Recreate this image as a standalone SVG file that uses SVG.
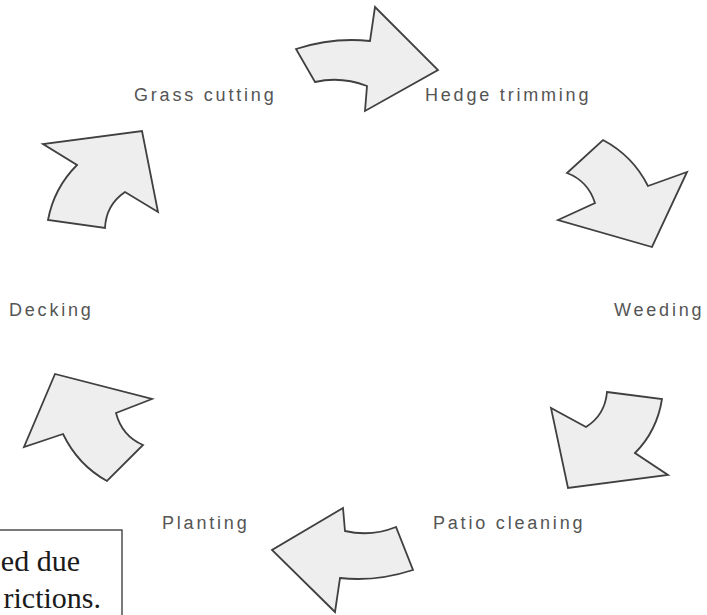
<svg xmlns="http://www.w3.org/2000/svg" width="707" height="615" viewBox="0 0 707 615">
  <style>
    .lbl { font-family: "Liberation Sans", Arial, sans-serif; font-size: 18px; letter-spacing: 2.8px; fill: #555555; }
    .arr { fill: #eeeeee; stroke: #404040; stroke-width: 1.8; stroke-linejoin: miter; }
    .note { font-family: "Liberation Serif", "Times New Roman", serif; font-size: 30px; fill: #1a1a1a; }
  </style>
  <rect x="0" y="0" width="707" height="615" fill="#ffffff"/>
  <g id="connectors">
    <path class="arr" d="M296,49 Q333,37 370,41 L375,7 L438,70 L365,111 L367,86 Q341,76 315,82 Z"/>
    <path class="arr" d="M603,140 Q633,156 648,186 L687,172 L652,247 L558,220 L595,203 Q588,181 567,173 Z"/>
    <path class="arr" d="M607,392 L662,399 Q657,431 635,453 L668,475 L568,488 L551,408 L586,427 Q605,415 607,392 Z"/>
    <path class="arr" d="M413,570 Q376,582 340,578 L335,612 L272,550 L343,508 L345,531 Q371,537 396,527 Z"/>
    <path class="arr" d="M107,481 Q78,465 63,434 L24,447 L55,374 L152,399 L116,413 Q122,436 143,445 Z"/>
    <path class="arr" d="M48,220 Q54,188 77,165 L43,144 L142,131 L158,212 L125,192 Q106,205 105,228 Z"/>
  </g>
  <g id="grass-cutting"><text class="lbl" x="134" y="101">Grass cutting</text></g>
  <g id="hedge-trimming"><text class="lbl" x="425" y="101">Hedge trimming</text></g>
  <g id="weeding"><text class="lbl" x="614" y="316">Weeding</text></g>
  <g id="patio-cleaning"><text class="lbl" x="433" y="529">Patio cleaning</text></g>
  <g id="planting"><text class="lbl" x="162" y="529">Planting</text></g>
  <g id="decking"><text class="lbl" x="9" y="316">Decking</text></g>
  <g id="note-box">
    <rect x="-10" y="530" width="132" height="100" fill="#ffffff" stroke="#222222" stroke-width="1.2"/>
    <text class="note" x="80" y="571" text-anchor="end">ed due</text>
    <text class="note" x="101" y="608" text-anchor="end">rictions.</text>
  </g>
</svg>
